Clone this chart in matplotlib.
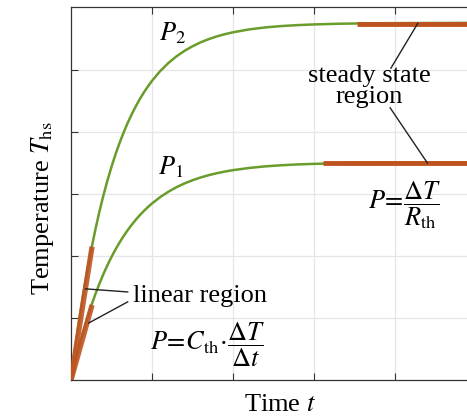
import matplotlib
matplotlib.use("Agg")
import matplotlib.pyplot as plt

plt.rcParams['font.family'] = 'serif'
plt.rcParams['font.serif'] = ['Liberation Serif', 'DejaVu Serif']
plt.rcParams['mathtext.fontset'] = 'stix'

# time axis values (arbitrary units) and temperature responses
t_p2 = [0, 0.05, 0.10, 0.15, 0.20, 0.25, 0.30, 0.35, 0.40, 0.45, 0.50, 0.55, 0.60,
        0.65, 0.70, 0.75, 0.80, 0.85, 0.90, 0.95, 1.00, 1.10, 1.20, 1.30, 1.40,
        1.50, 1.60, 1.70, 1.80, 1.90, 2.00, 2.20, 2.40, 2.60, 2.80, 3.00, 3.30,
        3.60, 4.00, 4.90]
T_p2 = [0, 0.501, 0.957, 1.375, 1.756, 2.104, 2.421, 2.712, 2.977, 3.218, 3.439,
        3.641, 3.825, 3.993, 4.147, 4.287, 4.415, 4.532, 4.639, 4.736, 4.825,
        4.981, 5.110, 5.218, 5.308, 5.383, 5.446, 5.498, 5.542, 5.578, 5.608,
        5.655, 5.687, 5.709, 5.724, 5.735, 5.746, 5.752, 5.756, 5.76]
t_p1 = [0, 0.05, 0.10, 0.15, 0.20, 0.25, 0.30, 0.35, 0.40, 0.45, 0.50, 0.55, 0.60,
        0.65, 0.70, 0.75, 0.80, 0.85, 0.90, 0.95, 1.00, 1.10, 1.20, 1.30, 1.40,
        1.50, 1.60, 1.70, 1.80, 1.90, 2.00, 2.20, 2.40, 2.60, 2.80, 3.00, 3.30,
        3.60, 4.00, 4.90]
T_p1 = [0, 0.281, 0.539, 0.776, 0.995, 1.196, 1.381, 1.551, 1.708, 1.852, 1.985,
        2.107, 2.219, 2.322, 2.417, 2.504, 2.585, 2.659, 2.727, 2.790, 2.847,
        2.949, 3.035, 3.108, 3.170, 3.222, 3.266, 3.304, 3.335, 3.362, 3.385,
        3.420, 3.446, 3.464, 3.477, 3.486, 3.496, 3.501, 3.505, 3.51]

# linear (initial slope) segments
lin_p2_t = [0, 0.26]
lin_p2_T = [0, 2.15]
lin_p1_t = [0, 0.26]
lin_p1_T = [0, 1.21]

# steady-state segments
ss_p2_t = [3.53, 4.9]
ss_p2_T = [5.75, 5.75]
ss_p1_t = [3.11, 4.9]
ss_p1_T = [3.50, 3.50]

xticks = [1, 2, 3, 4]
yticks = [1, 2, 3, 4, 5]

fig = plt.figure(figsize=(4.67, 4.16), dpi=100)
ax = fig.add_axes([71/467, 36/416, 396/467, 373/416])
ax.set_xlim(0, 396/81)
ax.set_ylim(0, 373/62)

green = '#6a9c2c'
red = '#bf5320'

ax.set_xticks(xticks)
ax.set_yticks(yticks)
ax.set_xticklabels([])
ax.set_yticklabels([])
ax.tick_params(direction='in', length=5, width=0.8, top=True, right=False, colors='#333333')
ax.grid(True, color='#e6e6ea', lw=0.9)
ax.set_axisbelow(True)
ax.spines['right'].set_visible(False)
for s in ['left', 'bottom', 'top']:
    ax.spines[s].set_color('#333333')
    ax.spines[s].set_linewidth(0.9)

ax.plot(t_p2, T_p2, color=green, lw=1.8, solid_capstyle='butt', zorder=3)
ax.plot(t_p1, T_p1, color=green, lw=1.8, solid_capstyle='butt', zorder=3)
ax.plot(lin_p2_t, lin_p2_T, color=red, lw=3.8, alpha=0.9, solid_capstyle='butt', zorder=4)
ax.plot(lin_p1_t, lin_p1_T, color=red, lw=3.8, alpha=0.9, solid_capstyle='butt', zorder=4)
ax.plot(ss_p2_t, ss_p2_T, color=red, lw=3.5, solid_capstyle='butt', zorder=4, clip_on=False)
ax.plot(ss_p1_t, ss_p1_T, color=red, lw=3.5, solid_capstyle='butt', zorder=4, clip_on=False)

fs = 19
ax.text(1.25, 5.60, r'$P_2$', fontsize=fs, ha='center', va='center')
ax.text(1.23, 3.44, r'$P_1$', fontsize=fs, ha='center', va='center')

# linear region annotation
ax.plot([0.18, 0.70], [1.47, 1.42], color='#222222', lw=1.0, zorder=5)
ax.plot([0.22, 0.70], [0.92, 1.26], color='#222222', lw=1.0, zorder=5)
ax.text(0.76, 1.36, 'linear region', fontsize=fs, ha='left', va='center')
ax.text(0.97, 0.56, r'$P\!=\!C_{\rm th}\!\cdot\!\dfrac{\Delta T}{\Delta t}$', fontsize=fs,
        ha='left', va='center')

# steady state annotation
ax.plot([4.28, 3.95], [5.75, 5.03], color='#222222', lw=1.0, zorder=5)
ax.plot([3.94, 4.40], [4.39, 3.50], color='#222222', lw=1.0, zorder=5)
ax.text(3.68, 4.73, 'steady state\nregion', fontsize=fs, ha='center', va='center',
        linespacing=0.95)
ax.text(3.67, 2.82, r'$P\!=\!\dfrac{\Delta T}{R_{\rm th}}$', fontsize=fs, ha='left', va='center')

fig.text(43/467, 1 - 208/416, r'Temperature $T_{\rm hs}$', fontsize=fs, rotation=90,
         ha='center', va='center')
fig.text(280/467, 1 - 405/416, r'Time $t$', fontsize=fs, ha='center', va='center')

fig.savefig('out.png', dpi=100)
